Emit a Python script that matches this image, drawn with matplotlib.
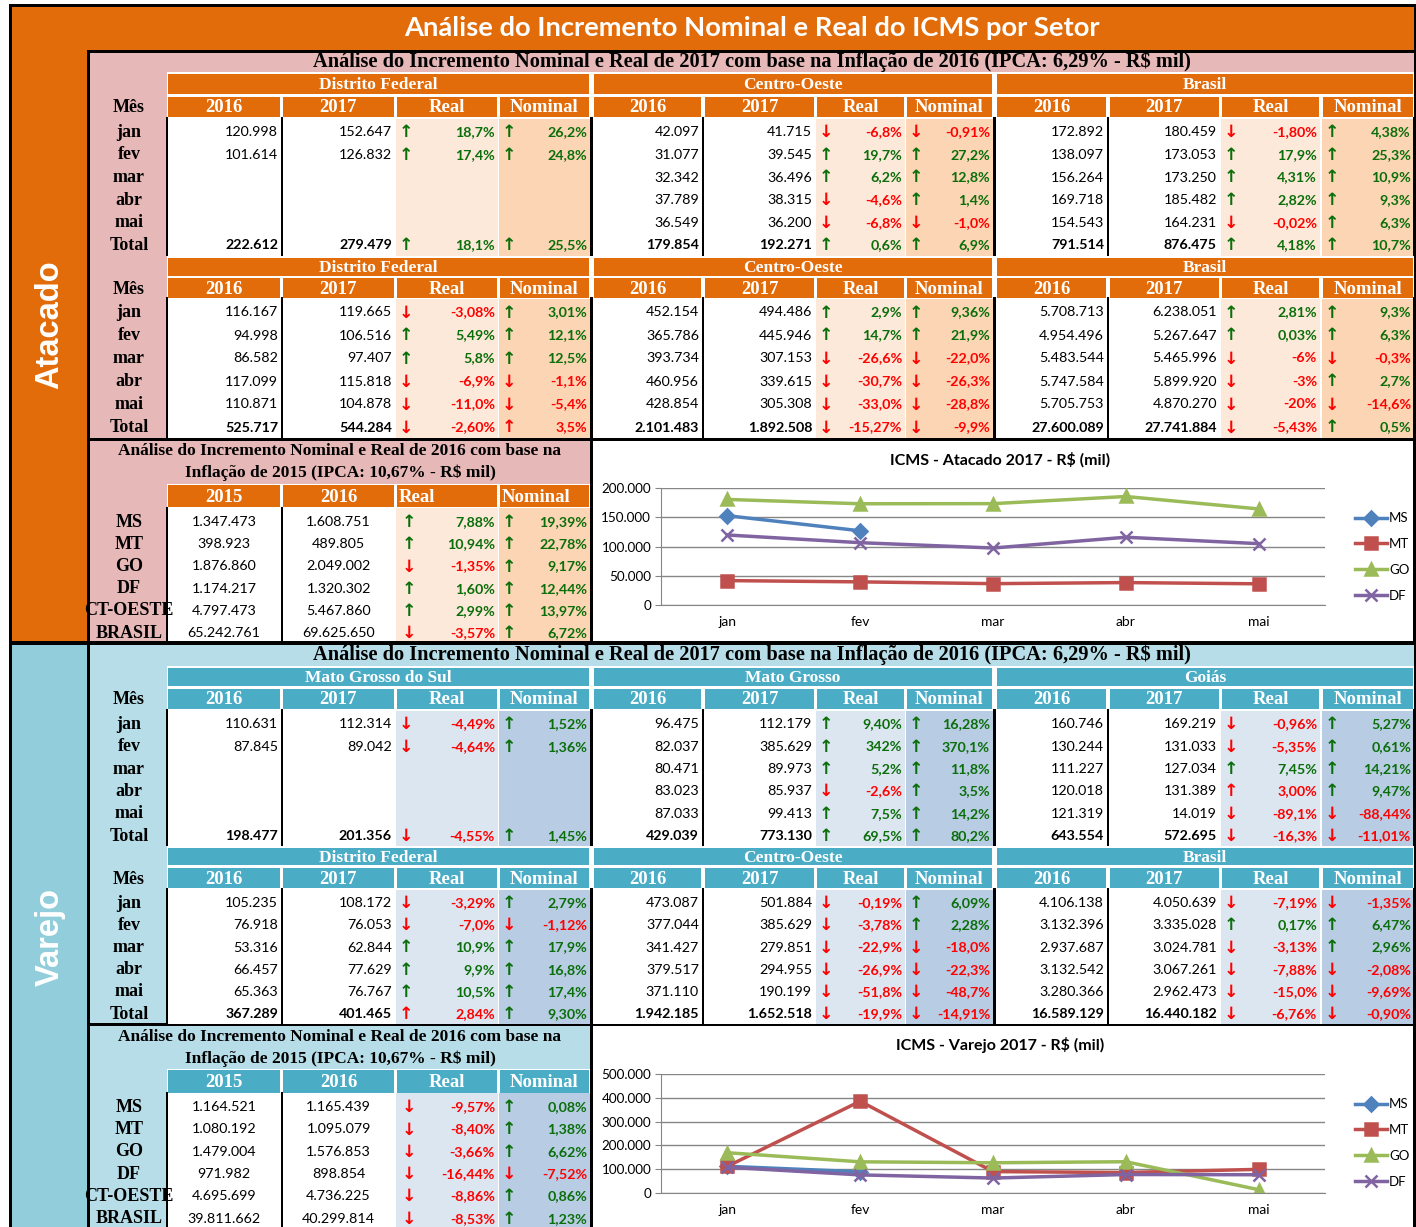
import numpy as np
import matplotlib.pyplot as plt
from matplotlib.patches import Rectangle
from matplotlib.ticker import FuncFormatter

W, H = 1416, 1227
SERIF = 'Liberation Serif'
CAL = 'Lato'

# ---------------- dados ----------------
meses = ['jan', 'fev', 'mar', 'abr', 'mai', 'Total']
ufs = ['MS', 'MT', 'GO', 'DF', 'CT-OESTE', 'BRASIL']
cats = ['jan', 'fev', 'mar', 'abr', 'mai']

# Atacado - quadro 1
at1_a_16 = [120998, 101614, None, None, None, 222612]
at1_a_17 = [152647, 126832, None, None, None, 279479]
at1_a_real = ['18,7%', '17,4%', '', '', '', '18,1%']
at1_a_nom = ['26,2%', '24,8%', '', '', '', '25,5%']
at1_b_16 = [42097, 31077, 32342, 37789, 36549, 179854]
at1_b_17 = [41715, 39545, 36496, 38315, 36200, 192271]
at1_b_real = ['-6,8%', '19,7%', '6,2%', '-4,6%', '-6,8%', '0,6%']
at1_b_nom = ['-0,91%', '27,2%', '12,8%', '1,4%', '-1,0%', '6,9%']
at1_c_16 = [172892, 138097, 156264, 169718, 154543, 791514]
at1_c_17 = [180459, 173053, 173250, 185482, 164231, 876475]
at1_c_real = ['-1,80%', '17,9%', '4,31%', '2,82%', '-0,02%', '4,18%']
at1_c_nom = ['4,38%', '25,3%', '10,9%', '9,3%', '6,3%', '10,7%']

# Atacado - quadro 2
at2_a_16 = [116167, 94998, 86582, 117099, 110871, 525717]
at2_a_17 = [119665, 106516, 97407, 115818, 104878, 544284]
at2_a_real = ['-3,08%', '5,49%', '5,8%', '-6,9%', '-11,0%', '-2,60%']
at2_a_nom = ['3,01%', '12,1%', '12,5%', '-1,1%', '-5,4%', '3,5%']
at2_b_16 = [452154, 365786, 393734, 460956, 428854, 2101483]
at2_b_17 = [494486, 445946, 307153, 339615, 305308, 1892508]
at2_b_real = ['2,9%', '14,7%', '-26,6%', '-30,7%', '-33,0%', '-15,27%']
at2_b_nom = ['9,36%', '21,9%', '-22,0%', '-26,3%', '-28,8%', '-9,9%']
at2_c_16 = [5708713, 4954496, 5483544, 5747584, 5705753, 27600089]
at2_c_17 = [6238051, 5267647, 5465996, 5899920, 4870270, 27741884]
at2_c_real = ['2,81%', '0,03%', '-6%', '-3%', '-20%', '-5,43%']
at2_c_nom = ['9,3%', '6,3%', '-0,3%', '2,7%', '-14,6%', '0,5%']

# Atacado - 2016 x 2015
at3_15 = [1347473, 398923, 1876860, 1174217, 4797473, 65242761]
at3_16 = [1608751, 489805, 2049002, 1320302, 5467860, 69625650]
at3_real = ['7,88%', '10,94%', '-1,35%', '1,60%', '2,99%', '-3,57%']
at3_nom = ['19,39%', '22,78%', '9,17%', '12,44%', '13,97%', '6,72%']

# Varejo - quadro 1
va1_a_16 = [110631, 87845, None, None, None, 198477]
va1_a_17 = [112314, 89042, None, None, None, 201356]
va1_a_real = ['-4,49%', '-4,64%', '', '', '', '-4,55%']
va1_a_nom = ['1,52%', '1,36%', '', '', '', '1,45%']
va1_b_16 = [96475, 82037, 80471, 83023, 87033, 429039]
va1_b_17 = [112179, 385629, 89973, 85937, 99413, 773130]
va1_b_real = ['9,40%', '342%', '5,2%', '-2,6%', '7,5%', '69,5%']
va1_b_nom = ['16,28%', '370,1%', '11,8%', '3,5%', '14,2%', '80,2%']
va1_c_16 = [160746, 130244, 111227, 120018, 121319, 643554]
va1_c_17 = [169219, 131033, 127034, 131389, 14019, 572695]
va1_c_real = ['-0,96%', '-5,35%', '7,45%', '3,00%', '-89,1%', '-16,3%']
va1_c_nom = ['5,27%', '0,61%', '14,21%', '9,47%', '-88,44%', '-11,01%']

# Varejo - quadro 2
va2_a_16 = [105235, 76918, 53316, 66457, 65363, 367289]
va2_a_17 = [108172, 76053, 62844, 77629, 76767, 401465]
va2_a_real = ['-3,29%', '-7,0%', '10,9%', '9,9%', '10,5%', '2,84%']
va2_a_nom = ['2,79%', '-1,12%', '17,9%', '16,8%', '17,4%', '9,30%']
va2_b_16 = [473087, 377044, 341427, 379517, 371110, 1942185]
va2_b_17 = [501884, 385629, 279851, 294955, 190199, 1652518]
va2_b_real = ['-0,19%', '-3,78%', '-22,9%', '-26,9%', '-51,8%', '-19,9%']
va2_b_nom = ['6,09%', '2,28%', '-18,0%', '-22,3%', '-48,7%', '-14,91%']
va2_c_16 = [4106138, 3132396, 2937687, 3132542, 3280366, 16589129]
va2_c_17 = [4050639, 3335028, 3024781, 3067261, 2962473, 16440182]
va2_c_real = ['-7,19%', '0,17%', '-3,13%', '-7,88%', '-15,0%', '-6,76%']
va2_c_nom = ['-1,35%', '6,47%', '2,96%', '-2,08%', '-9,69%', '-0,90%']

# Varejo - 2016 x 2015
va3_15 = [1164521, 1080192, 1479004, 971982, 4695699, 39811662]
va3_16 = [1165439, 1095079, 1576853, 898854, 4736225, 40299814]
va3_real = ['-9,57%', '-8,40%', '-3,66%', '-16,44%', '-8,86%', '-8,53%']
va3_nom = ['0,08%', '1,38%', '6,62%', '-7,52%', '0,86%', '1,23%']

# setas vermelhas em valores positivos (linha do quadro)
red_at2_a_nom = [5]
red_va1_c_real = [3]
red_va2_a_real = [5]

# graficos (2017)
at_chart = {'MS': at1_a_17[:2] + [np.nan] * 3, 'MT': at1_b_17[:5],
            'GO': at1_c_17[:5], 'DF': at2_a_17[:5]}
va_chart = {'MS': va1_a_17[:2] + [np.nan] * 3, 'MT': va1_b_17[:5],
            'GO': va1_c_17[:5], 'DF': va2_a_17[:5]}

# ---------------- cores ----------------
ORANGE = '#E26B0A'
PINK = '#E6B8B7'
AT_REAL, AT_NOM = '#FDE9D9', '#FCD5B4'
BLUE_BAND = '#92CDDC'
BLUE_PANEL = '#B7DEE8'
BLUE_HEAD = '#4BACC6'
VA_REAL, VA_NOM = '#DCE6F1', '#B8CCE4'
GREEN = '#0A6E0A'
RED = '#FF0000'

fig = plt.figure(figsize=(W / 100, H / 100), dpi=100)
bg = fig.add_axes([0, 0, 1, 1])
bg.set_xlim(0, W)
bg.set_ylim(H, 0)
bg.axis('off')


def box(x0, y0, x1, y1, color, z=1):
    bg.add_patch(Rectangle((x0, y0), x1 - x0, y1 - y0, facecolor=color,
                           edgecolor='none', zorder=z))


def txt(x, y, s, size, ha='center', color='black', fam=SERIF, weight='bold', **kw):
    bg.text(x, y, s, fontsize=size, ha=ha, va='center', color=color,
            family=fam, fontweight=weight, zorder=6, **kw)


def fmt(v):
    return '' if v is None else f'{v:,}'.replace(',', '.')


def pct(xl, xr, y, s, red_flag, arrow_dx=10):
    if s == '':
        return
    up = not s.startswith('-')
    c = GREEN if (up and not red_flag) else RED
    txt(xl + arrow_dx, y + 1, '\u2191' if up else '\u2193', 12.5, color=c, fam='DejaVu Sans')
    txt(xr - 3, y + 1, s, 10.3, ha='right', color=c, fam=CAL)


REGS = [[(167, 281), (282, 395), (396, 498), (499, 590)],
        [(593, 702), (704, 815), (816, 905), (906, 993)],
        [(996, 1107), (1109, 1220), (1221, 1320), (1322, 1414)]]


def quadro(yg, yy, ytop, rh, names, data, head, c_real, c_nom):
    ybot = ytop + 6 * rh
    box(167, yg[0] - 1, 1414, ybot, 'white', 2)
    for (cols, name, d) in zip(REGS, names, data):
        v16, v17, real, nom, red_r, red_n = d
        box(cols[0][0] + 1, yg[0] + 1, cols[-1][1] - 1, yg[1] - 1, head, 3)
        txt((cols[0][0] + cols[-1][1]) / 2, (yg[0] + yg[1]) / 2 + 1, name, 12.5, color='white')
        for (x0, x1), lab in zip(cols, ['2016', '2017', 'Real', 'Nominal']):
            box(x0 + 1, yy[0], x1 - 1, yy[1], head, 3)
            txt((x0 + x1) / 2, (yy[0] + yy[1]) / 2 + 1, lab, 13.5, color='white')
        box(cols[2][0], ytop - 1, cols[2][1], ybot, c_real, 3)
        box(cols[3][0], ytop - 1, cols[3][1], ybot, c_nom, 3)
        for i in range(6):
            y = ytop + (i + 0.5) * rh
            w = 'bold' if i == 5 else 'normal'
            txt(cols[0][1] - 3, y + 1, fmt(v16[i]), 10.3, ha='right', fam=CAL, weight=w)
            txt(cols[1][1] - 3, y + 1, fmt(v17[i]), 10.3, ha='right', fam=CAL, weight=w)
            pct(cols[2][0], cols[2][1], y, real[i], i in red_r)
            pct(cols[3][0], cols[3][1], y, nom[i], i in red_n)
    for xa, xb in [(165.5, 168), (280.5, 283), (590, 593), (701.5, 704),
                   (993, 996), (1106.5, 1109), (1413, 1416)]:
        box(xa, ytop - 3, xb, ybot, 'black', 4)
    txt(129, (yy[0] + yy[1]) / 2 + 1, 'Mês', 13)
    for i, m in enumerate(meses):
        txt(129, ytop + (i + 0.5) * rh + 1, m, 13)


def quadro2016(ysub, yh, ytop, rh, ybot, v15, v16, real, nom, head, c_real, c_nom, left_lab):
    txt(340, ysub[0], 'Análise do Incremento Nominal e Real de 2016 com base na', 12.5)
    txt(340, ysub[1], 'Inflação de 2015 (IPCA: 10,67% - R$ mil)', 12.5)
    cols = REGS[0]
    box(167, yh[0] - 1, 590, ybot, 'white', 2)
    for k, ((x0, x1), lab) in enumerate(zip(cols, ['2015', '2016', 'Real', 'Nominal'])):
        box(x0 + 1, yh[0], x1 - 1, yh[1], head, 3)
        if left_lab and k >= 2:
            txt(x0 + 3, (yh[0] + yh[1]) / 2 + 1, lab, 13.5, ha='left', color='white')
        else:
            txt((x0 + x1) / 2, (yh[0] + yh[1]) / 2 + 1, lab, 13.5, color='white')
    box(cols[2][0], ytop - 2, cols[2][1], ybot, c_real, 3)
    box(cols[3][0], ytop - 2, cols[3][1], ybot, c_nom, 3)
    for xa, xb in [(165.5, 168), (280.5, 283)]:
        box(xa, ytop - 3, xb, ybot, 'black', 4)
    for i in range(6):
        y = ytop + (i + 0.5) * rh
        txt(129, y + 1, ufs[i], 13)
        txt(sum(cols[0]) / 2, y + 1, fmt(v15[i]), 10.3, fam=CAL, weight='normal')
        txt(sum(cols[1]) / 2, y + 1, fmt(v16[i]), 10.3, fam=CAL, weight='normal')
        pct(cols[2][0], cols[2][1], y, real[i], False, arrow_dx=13)
        pct(cols[3][0], cols[3][1], y, nom[i], False)


def grafico(rect_px, series, ymax, step, title, ytitle, leg_y):
    x0, y0, x1, y1 = rect_px
    ax = fig.add_axes([x0 / W, 1 - y1 / H, (x1 - x0) / W, (y1 - y0) / H])
    styles = {'MS': ('#4F81BD', 'D', 7), 'MT': ('#C0504D', 's', 8),
              'GO': ('#9BBB59', '^', 9), 'DF': ('#8064A2', 'x', 8)}
    xs = np.arange(len(cats))
    for name, vals in series.items():
        c, m, ms = styles[name]
        ax.plot(xs, vals, color=c, lw=2.5, marker=m, ms=ms, mew=1.8, label=name)
    ax.set_xlim(-0.5, 4.5)
    ax.set_ylim(0, ymax)
    ax.set_yticks(np.arange(0, ymax + 1, step))
    ax.yaxis.set_major_formatter(FuncFormatter(lambda v, p: f'{int(v):,}'.replace(',', '.')))
    ax.set_xticks(xs)
    ax.set_xticklabels(cats)
    ax.grid(axis='y', color='#868686', lw=1)
    ax.set_axisbelow(True)
    for s in ['top', 'right']:
        ax.spines[s].set_visible(False)
    for s in ['left', 'bottom']:
        ax.spines[s].set_color('#868686')
    ax.tick_params(axis='y', length=4, color='#868686', labelsize=9.7, pad=3)
    ax.tick_params(axis='x', length=0, labelsize=10, pad=8)
    for lab in ax.get_xticklabels() + ax.get_yticklabels():
        lab.set_family(CAL)
    ax.set_facecolor('white')
    ax.legend(loc='center left', bbox_to_anchor=(1343, leg_y), bbox_transform=bg.transData,
              frameon=False, prop={'family': CAL, 'size': 9.5}, handlelength=2.4,
              handletextpad=0.2, labelspacing=1.05)
    txt(1000, ytitle, title, 11.5, fam=CAL)


# ---------------- estrutura ----------------
box(9, 4, 1416, H, 'black', 0)
box(12, 7, 1414, 50, ORANGE, 1)
box(12, 50, 87, 641, ORANGE, 1)
box(90, 53, 1414, 438, PINK, 1)
box(90, 441, 590, 641, PINK, 1)
box(593, 441, 1413, 641, 'white', 1)
box(12, 645, 87, H, BLUE_BAND, 1)
box(90, 645, 1414, 1023, BLUE_PANEL, 1)
box(90, 1026, 590, H, BLUE_PANEL, 1)
box(593, 1026, 1413, H, 'white', 1)

txt(752, 28, 'Análise do Incremento Nominal e Real do ICMS por Setor', 19.7, color='white', fam=CAL)
txt(50, 325, 'Atacado', 23.5, color='white', fam='Liberation Sans', rotation=90)
txt(50, 937, 'Varejo', 23.5, color='white', fam='Liberation Sans', rotation=90)

sub = 'Análise do Incremento Nominal e Real de 2017 com base na Inflação de 2016 (IPCA: 6,29% - R$ mil)'
txt(752, 62, sub, 14.7)
txt(752, 655, sub, 14.7)

quadro((73, 95), (97, 117), 120, 22.6, ['Distrito Federal', 'Centro-Oeste', 'Brasil'],
       [(at1_a_16, at1_a_17, at1_a_real, at1_a_nom, [], []),
        (at1_b_16, at1_b_17, at1_b_real, at1_b_nom, [], []),
        (at1_c_16, at1_c_17, at1_c_real, at1_c_nom, [], [])],
       ORANGE, AT_REAL, AT_NOM)
quadro((257, 277), (278, 298), 300, 23, ['Distrito Federal', 'Centro-Oeste', 'Brasil'],
       [(at2_a_16, at2_a_17, at2_a_real, at2_a_nom, [], red_at2_a_nom),
        (at2_b_16, at2_b_17, at2_b_real, at2_b_nom, [], []),
        (at2_c_16, at2_c_17, at2_c_real, at2_c_nom, [], [])],
       ORANGE, AT_REAL, AT_NOM)
quadro2016((451, 473), (485, 507), 510, 22.2, 641, at3_15, at3_16, at3_real, at3_nom,
           ORANGE, AT_REAL, AT_NOM, True)

quadro((667, 687), (689, 709), 712, 22.4, ['Mato Grosso do Sul', 'Mato Grosso', 'Goiás'],
       [(va1_a_16, va1_a_17, va1_a_real, va1_a_nom, [], []),
        (va1_b_16, va1_b_17, va1_b_real, va1_b_nom, [], []),
        (va1_c_16, va1_c_17, va1_c_real, va1_c_nom, red_va1_c_real, [])],
       BLUE_HEAD, VA_REAL, VA_NOM)
quadro((847, 866), (868, 888), 891, 22.2, ['Distrito Federal', 'Centro-Oeste', 'Brasil'],
       [(va2_a_16, va2_a_17, va2_a_real, va2_a_nom, red_va2_a_real, []),
        (va2_b_16, va2_b_17, va2_b_real, va2_b_nom, [], []),
        (va2_c_16, va2_c_17, va2_c_real, va2_c_nom, [], [])],
       BLUE_HEAD, VA_REAL, VA_NOM)
quadro2016((1037, 1059), (1070, 1093), 1095, 22.3, H, va3_15, va3_16, va3_real, va3_nom,
           BLUE_HEAD, VA_REAL, VA_NOM, False)

grafico((661, 488, 1325, 605), at_chart, 200000, 50000, 'ICMS - Atacado 2017 - R$ (mil)', 460, 557)
grafico((661, 1074, 1325, 1193), va_chart, 500000, 100000, 'ICMS - Varejo 2017 - R$ (mil)', 1045, 1143)

fig.savefig('out.png', dpi=100)
